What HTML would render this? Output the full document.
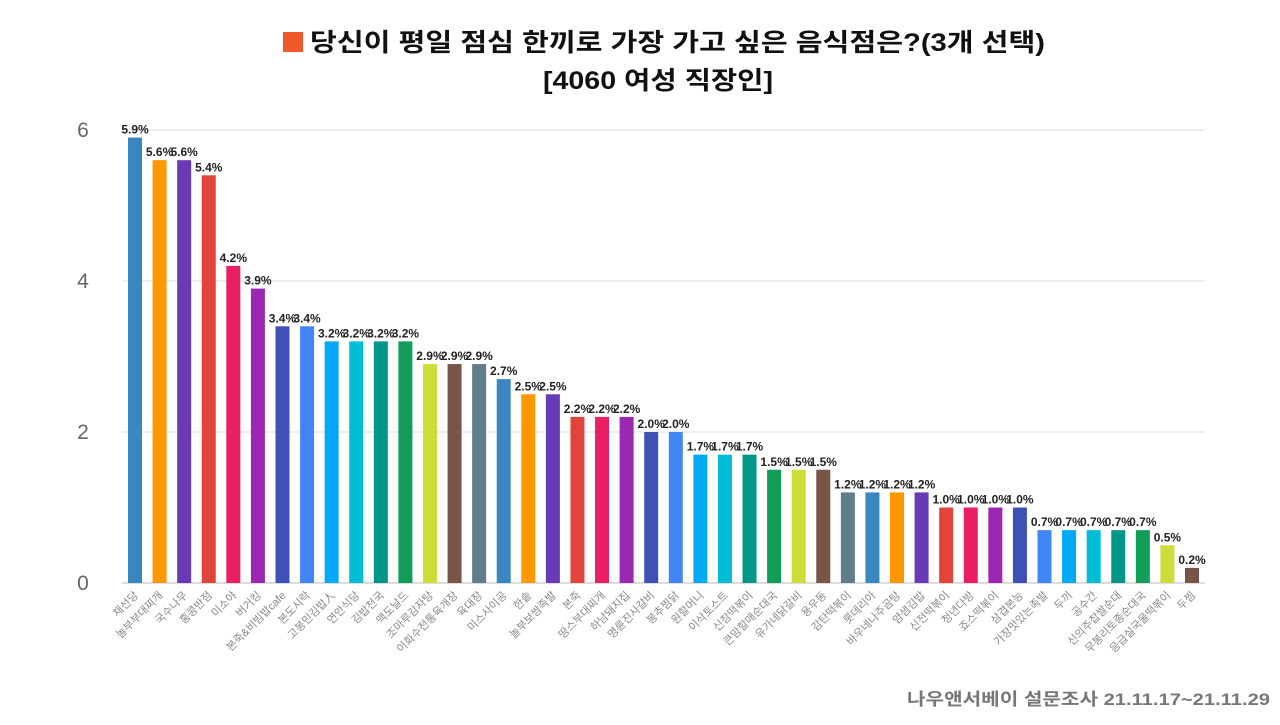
<!DOCTYPE html>
<html><head><meta charset="utf-8"><style>
body{margin:0;background:#fff;width:1280px;height:720px;overflow:hidden;font-family:"Liberation Sans","Noto Sans CJK KR",sans-serif}
svg text{font-family:"Liberation Sans","Noto Sans CJK KR",sans-serif}
</style></head><body>
<svg id="chart" width="1280" height="720" xmlns="http://www.w3.org/2000/svg">
<rect x="283" y="32" width="20" height="20" fill="#f05a28"/>
<text x="310" y="51" font-size="25" font-weight="bold" fill="#111" textLength="735" lengthAdjust="spacingAndGlyphs">당신이 평일 점심 한끼로 가장 가고 싶은 음식점은?(3개 선택)</text>
<text x="543" y="89" font-size="25" font-weight="bold" fill="#111" textLength="230" lengthAdjust="spacingAndGlyphs">[4060 여성 직장인]</text>
<text x="907" y="705" font-size="17" font-weight="bold" fill="#777" textLength="363" lengthAdjust="spacingAndGlyphs">나우앤서베이 설문조사 21.11.17~21.11.29</text>
<g id="grid"></g><g id="bars"></g>
</svg>
<script>
const categories=["채선당","놀부부대찌개","국수나무","홍콩반점","미소야","버거킹","본죽&비빔밥cafe","본도시락","고봉민김밥人","연안식당","김밥천국","맥도날드","조마루감자탕","이화수전통육개장","육대장","미스사이공","한솥","놀부보쌈족발","본죽","땅스부대찌개","하남돼지집","명륜진사갈비","봉추찜닭","원할머니","이삭토스트","신참떡볶이","큰맘할매순대국","유가네닭갈비","용우동","감탄떡볶이","롯데리아","바우네나주곰탕","얌샘김밥","신전떡볶이","청년다방","죠스떡볶이","삼겹본능","가장맛있는족발","두끼","공수간","신의주찹쌀순대","무봉리토종순대국","응급실국물떡볶이","두찜"];
const values=[5.9,5.6,5.6,5.4,4.2,3.9,3.4,3.4,3.2,3.2,3.2,3.2,2.9,2.9,2.9,2.7,2.5,2.5,2.2,2.2,2.2,2.0,2.0,1.7,1.7,1.7,1.5,1.5,1.5,1.2,1.2,1.2,1.2,1.0,1.0,1.0,1.0,0.7,0.7,0.7,0.7,0.7,0.5,0.2];
const yTicks=[0,2,4,6];
const palette=["#3a86c0","#ff9800","#673ab7","#e0443a","#e91e63","#9c27b0","#3f51b5","#4285f4","#03a9f4","#00bcd4","#009688","#0f9d58","#cddc39","#795548","#607d8b"];
const NS="http://www.w3.org/2000/svg";
const x0=135,step=(1192-135)/43,yBase=583,yTop=130,yMax=6;
const xs=i=>x0+i*step;
const ys=v=>yBase-(v/yMax)*(yBase-yTop);
const grid=document.getElementById('grid'),bars=document.getElementById('bars');
yTicks.forEach(t=>{
 const l=document.createElementNS(NS,'line');
 l.setAttribute('x1',122);l.setAttribute('x2',1205);l.setAttribute('y1',ys(t));l.setAttribute('y2',ys(t));
 l.setAttribute('stroke',t===0?'#bbb':'#ddd');l.setAttribute('stroke-width',1);
 
 
 grid.appendChild(l);
 const tx=document.createElementNS(NS,'text');
 tx.setAttribute('x',83);tx.setAttribute('y',ys(t)+7);tx.setAttribute('text-anchor','middle');
 tx.setAttribute('font-size',21);tx.setAttribute('fill','#666');tx.textContent=t;
 
 
 grid.appendChild(tx);
});
values.forEach((v,i)=>{
 const r=document.createElementNS(NS,'rect');
 r.setAttribute('x',xs(i)-7);r.setAttribute('width',14);r.setAttribute('y',ys(v));r.setAttribute('height',yBase-ys(v));
 r.setAttribute('fill',palette[i%15]);
 
 
 bars.appendChild(r);
 const vl=document.createElementNS(NS,'text');
 vl.setAttribute('x',xs(i));vl.setAttribute('y',ys(v)-4);vl.setAttribute('text-anchor','middle');
 vl.setAttribute('font-size',12);vl.setAttribute('font-weight','bold');vl.setAttribute('fill','#222');vl.textContent=v.toFixed(1)+'%';
 
 
 bars.appendChild(vl);
 const cl=document.createElementNS(NS,'text');
 cl.setAttribute('transform','translate('+(xs(i)+4)+',596) rotate(-45)');
 cl.setAttribute('text-anchor','end');cl.setAttribute('font-size',11);cl.setAttribute('fill','#888');
 cl.textContent=categories[i];
 
 
 bars.appendChild(cl);
});
</script>
</body></html>
